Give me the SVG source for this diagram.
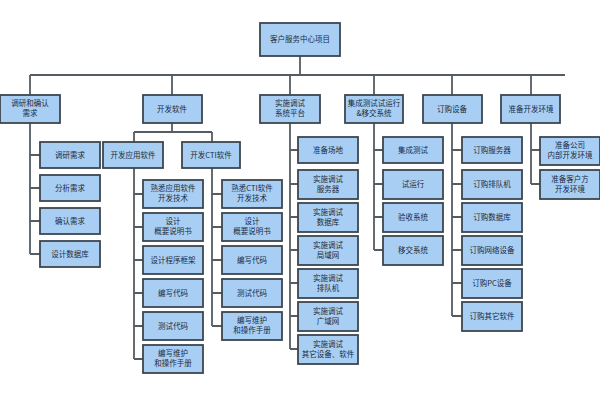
<svg xmlns="http://www.w3.org/2000/svg" width="600" height="400" viewBox="0 0 600 400">
<style>
.b{fill:#a8cff3;stroke:#3c4650;stroke-width:1.8}
.c{fill:none;stroke:#555c63;stroke-width:1.8}
text{font-family:"Noto Sans CJK SC",sans-serif;font-size:7.5px;fill:#1c2a40;text-anchor:middle}
</style>
<rect width="600" height="400" fill="#fff"/>
<g id="connectors" class="c">
<path d="M300 56V75M30 75H565M30 75V95M172 75V95M290 75V95M374 75V95M452 75V95M531 75V95"/>
<path d="M30 123V254M30 155H40M30 188H40M30 221H40M30 254H40"/>
<path d="M172 123V132M134 132H212M134 132V142M212 132V142"/>
<path d="M134 168V359M134 194H143M134 227H143M134 260H143M134 293H143M134 326H143M134 359H143"/>
<path d="M212 168V326M212 194H222M212 227H222M212 260H222M212 293H222M212 326H222"/>
<path d="M290 123V349M290 150H298M290 184H298M290 217H298M290 250H298M290 283H298M290 316H298M290 349H298"/>
<path d="M374 123V250M374 150H383M374 184H383M374 217H383M374 250H383"/>
<path d="M452 123V316M452 150H462M452 184H462M452 217H462M452 250H462M452 283H462M452 316H462"/>
<path d="M531 123V184M531 150H540M531 184H540"/>
</g>
<g id="root"><rect class="b" x="260" y="23" width="80" height="33"/><text x="300" y="42">客户服务中心项目</text></g>
<g id="l1a"><rect class="b" x="0" y="95" width="60" height="28"/><text x="30" y="106">调研和确认</text><text x="30" y="116">需求</text></g>
<g id="l1b"><rect class="b" x="143" y="95" width="59" height="28"/><text x="172" y="112">开发软件</text></g>
<g id="l1c"><rect class="b" x="260" y="95" width="60" height="28"/><text x="290" y="106">实施调试</text><text x="290" y="116">系统平台</text></g>
<g id="l1d"><rect class="b" x="345" y="95" width="58" height="28"/><text x="374" y="106">集成测试试运行</text><text x="374" y="116">&amp;移交系统</text></g>
<g id="l1e"><rect class="b" x="423" y="95" width="59" height="28"/><text x="452" y="112">订购设备</text></g>
<g id="l1f"><rect class="b" x="501" y="95" width="59" height="28"/><text x="531" y="112">准备开发环境</text></g>
<g id="a1"><rect class="b" x="40" y="142" width="60" height="26"/><text x="70" y="158">调研需求</text></g>
<g id="a2"><rect class="b" x="40" y="175" width="60" height="26"/><text x="70" y="191">分析需求</text></g>
<g id="a3"><rect class="b" x="40" y="208" width="60" height="26"/><text x="70" y="224">确认需求</text></g>
<g id="a4"><rect class="b" x="40" y="241" width="60" height="26"/><text x="70" y="257">设计数据库</text></g>
<g id="b1"><rect class="b" x="103" y="142" width="60" height="26"/><text x="133" y="158">开发应用软件</text></g>
<g id="b2"><rect class="b" x="182" y="142" width="58" height="26"/><text x="211" y="158">开发CTI软件</text></g>
<g id="b11"><rect class="b" x="143" y="180" width="60" height="28"/><text x="173" y="191">熟悉应用软件</text><text x="173" y="201">开发技术</text></g>
<g id="b12"><rect class="b" x="143" y="213" width="60" height="28"/><text x="173" y="224">设计</text><text x="173" y="234">概要说明书</text></g>
<g id="b13"><rect class="b" x="143" y="246" width="60" height="28"/><text x="173" y="263">设计程序框架</text></g>
<g id="b14"><rect class="b" x="143" y="279" width="60" height="28"/><text x="173" y="296">编写代码</text></g>
<g id="b15"><rect class="b" x="143" y="312" width="60" height="28"/><text x="173" y="329">测试代码</text></g>
<g id="b16"><rect class="b" x="143" y="345" width="60" height="28"/><text x="173" y="356">编写维护</text><text x="173" y="366">和操作手册</text></g>
<g id="b21"><rect class="b" x="222" y="180" width="60" height="28"/><text x="252" y="191">熟悉CTI软件</text><text x="252" y="201">开发技术</text></g>
<g id="b22"><rect class="b" x="222" y="213" width="60" height="28"/><text x="252" y="224">设计</text><text x="252" y="234">概要说明书</text></g>
<g id="b23"><rect class="b" x="222" y="246" width="60" height="28"/><text x="252" y="263">编写代码</text></g>
<g id="b24"><rect class="b" x="222" y="279" width="60" height="28"/><text x="252" y="296">测试代码</text></g>
<g id="b25"><rect class="b" x="222" y="312" width="60" height="28"/><text x="252" y="323">编写维护</text><text x="252" y="333">和操作手册</text></g>
<g id="c1"><rect class="b" x="298" y="137" width="60" height="26"/><text x="328" y="153">准备场地</text></g>
<g id="c2"><rect class="b" x="298" y="170" width="60" height="29"/><text x="328" y="182">实施调试</text><text x="328" y="192">服务器</text></g>
<g id="c3"><rect class="b" x="298" y="203" width="60" height="29"/><text x="328" y="215">实施调试</text><text x="328" y="225">数据库</text></g>
<g id="c4"><rect class="b" x="298" y="236" width="60" height="29"/><text x="328" y="248">实施调试</text><text x="328" y="258">局域网</text></g>
<g id="c5"><rect class="b" x="298" y="269" width="60" height="29"/><text x="328" y="281">实施调试</text><text x="328" y="291">排队机</text></g>
<g id="c6"><rect class="b" x="298" y="302" width="60" height="29"/><text x="328" y="314">实施调试</text><text x="328" y="324">广域网</text></g>
<g id="c7"><rect class="b" x="298" y="335" width="60" height="29"/><text x="328" y="347">实施调试</text><text x="328" y="357">其它设备、软件</text></g>
<g id="d1"><rect class="b" x="383" y="137" width="60" height="26"/><text x="413" y="153">集成测试</text></g>
<g id="d2"><rect class="b" x="383" y="170" width="60" height="29"/><text x="413" y="187">试运行</text></g>
<g id="d3"><rect class="b" x="383" y="203" width="60" height="29"/><text x="413" y="220">验收系统</text></g>
<g id="d4"><rect class="b" x="383" y="236" width="60" height="29"/><text x="413" y="253">移交系统</text></g>
<g id="e1"><rect class="b" x="462" y="137" width="60" height="26"/><text x="492" y="153">订购服务器</text></g>
<g id="e2"><rect class="b" x="462" y="170" width="60" height="29"/><text x="492" y="187">订购排队机</text></g>
<g id="e3"><rect class="b" x="462" y="203" width="60" height="29"/><text x="492" y="220">订购数据库</text></g>
<g id="e4"><rect class="b" x="462" y="236" width="60" height="29"/><text x="492" y="253">订购网络设备</text></g>
<g id="e5"><rect class="b" x="462" y="269" width="60" height="29"/><text x="492" y="286">订购PC设备</text></g>
<g id="e6"><rect class="b" x="462" y="302" width="60" height="29"/><text x="492" y="319">订购其它软件</text></g>
<g id="f1"><rect class="b" x="540" y="137" width="60" height="28"/><text x="570" y="148">准备公司</text><text x="570" y="158">内部开发环境</text></g>
<g id="f2"><rect class="b" x="540" y="170" width="60" height="29"/><text x="570" y="182">准备客户方</text><text x="570" y="192">开发环境</text></g>
</svg>
